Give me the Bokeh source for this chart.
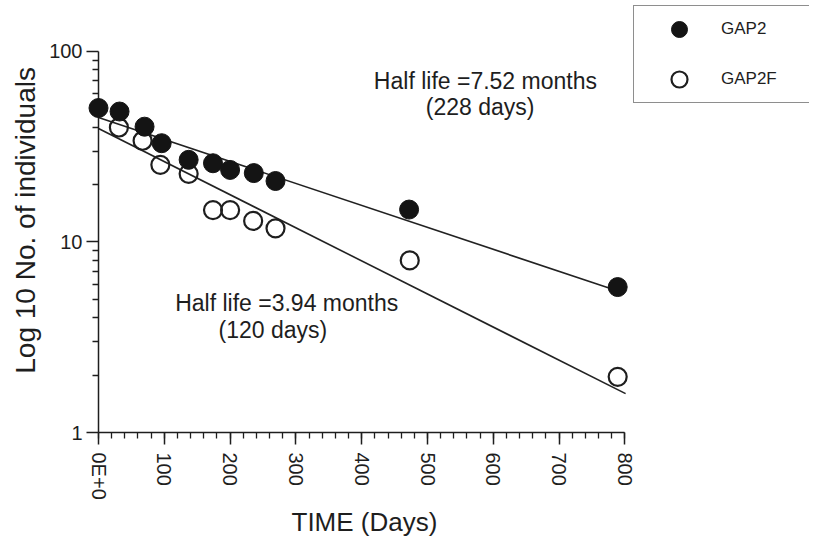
from bokeh.plotting import figure
from bokeh.models import (Range1d, FixedTicker, Legend, LegendItem, Label,
                          ColumnDataSource, Title)
from bokeh.embed import file_html
from bokeh.resources import INLINE

# ---- data ----
gap2_days = [0, 32, 70, 96, 137, 174, 200, 236, 269, 472, 789]
gap2_counts = [50.5, 48.4, 40.3, 33.0, 27.0, 25.9, 23.9, 23.0, 20.9, 14.8, 5.8]
gap2f_days = [31, 67, 94, 137, 174, 200, 235, 269, 473, 789]
gap2f_counts = [39.9, 34.0, 25.4, 22.8, 14.7, 14.7, 12.9, 11.8, 8.0, 1.96]
fit_gap2_days = [0, 778]
fit_gap2_counts = [45.0, 5.7]
fit_gap2f_days = [0, 801]
fit_gap2f_counts = [39.4, 1.6]
x_ticks = [0, 100, 200, 300, 400, 500, 600, 700, 800]
x_tick_labels = ["0E+0", "100", "200", "300", "400", "500", "600", "700", "800"]
x_minor_ticks = [d for d in range(0, 801, 20)]
y_ticks = [1, 10, 100]
y_tick_labels = ["1", "10", "100"]
y_minor_ticks = [2, 3, 4, 5, 6, 7, 8, 9, 20, 30, 40, 50, 60, 70, 80, 90]

FONT = "Liberation Sans"
INK = "#1e1e1e"

p = figure(width=809, height=539, output_backend="svg", toolbar_location=None,
           y_axis_type="log",
           x_range=Range1d(0, 1080.5), y_range=Range1d(1, 185.2),
           min_border_left=98, min_border_right=0, min_border_top=0,
           min_border_bottom=107)
p.outline_line_color = None
p.xgrid.visible = False
p.ygrid.visible = False
p.background_fill_color = "white"
p.border_fill_color = "white"

src2 = ColumnDataSource(dict(x=gap2_days, y=gap2_counts))
src2f = ColumnDataSource(dict(x=gap2f_days, y=gap2f_counts))

p.line(fit_gap2_days, fit_gap2_counts, line_color="#222222", line_width=1.6)
p.line(fit_gap2f_days, fit_gap2f_counts, line_color="#222222", line_width=1.6)

r2f = p.scatter("x", "y", source=src2f, marker="circle", size=18,
                fill_color="white", fill_alpha=0.0, line_color=INK, line_width=2.2,
                level="overlay")
r2 = p.scatter("x", "y", source=src2, marker="circle", size=19,
               fill_color="#141414", line_color="#141414", line_width=1,
               level="overlay")

# axes
xa = p.xaxis[0]
xa.ticker = FixedTicker(ticks=x_ticks, minor_ticks=x_minor_ticks)
xa.major_label_overrides = {t: l for t, l in zip(x_ticks, x_tick_labels)}
xa.bounds = (0, 800)
xa.major_label_orientation = "vertical"

ya = p.yaxis[0]
ya.ticker = FixedTicker(ticks=y_ticks, minor_ticks=y_minor_ticks)
ya.major_label_overrides = {t: l for t, l in zip(y_ticks, y_tick_labels)}
ya.bounds = (1, 100)
ya.axis_label = "Log 10  No. of individuals"

for ax in (xa, ya):
    ax.axis_line_color = INK
    ax.axis_line_width = 1.5
    ax.major_tick_line_color = INK
    ax.major_tick_line_width = 1.5
    ax.minor_tick_line_color = INK
    ax.minor_tick_line_width = 1.3
    ax.major_tick_out = 12
    ax.major_tick_in = 0
    ax.minor_tick_out = 6
    ax.minor_tick_in = 0
    ax.major_label_text_font = FONT
    ax.major_label_text_font_size = "20px"
    ax.major_label_text_color = INK
    ax.axis_label_text_font = FONT
    ax.axis_label_text_font_style = "normal"
    ax.axis_label_text_color = INK

ya.axis_label_text_font_size = "28px"
xa.major_label_standoff = 8
ya.major_label_standoff = 4
ya.axis_label_standoff = 5

# x axis title, centred under the 0-800 axis span (not the wider frame)
x_title = Title(text="TIME (Days)", align="left", offset=193, standoff=5,
                text_font=FONT, text_font_size="26px", text_font_style="normal",
                text_color=INK)
p.add_layout(x_title, "below")

# annotations
notes = [
    (588, 70.4, "Half life =7.52 months"),
    (580, 51.0, "(228 days)"),
    (286, 4.77, "Half life =3.94 months"),
    (265, 3.44, "(120 days)"),
]
for nx, ny, txt in notes:
    p.add_layout(Label(x=nx, y=ny, text=txt, text_align="center",
                       text_baseline="alphabetic", text_font=FONT,
                       text_font_size="23px", text_color=INK))

legend = Legend(items=[LegendItem(label="GAP2", renderers=[r2]),
                       LegendItem(label="GAP2F", renderers=[r2f])],
                location=(535, 329), orientation="vertical",
                padding=3, spacing=10, margin=0,
                glyph_width=84, glyph_height=40, label_standoff=0,
                label_width=130,
                label_text_font=FONT, label_text_font_size="17px",
                label_text_color=INK,
                border_line_color=INK, border_line_width=1.5,
                background_fill_color="white", background_fill_alpha=1.0)
p.add_layout(legend)

open("out.html", "w").write(file_html(p, INLINE))
